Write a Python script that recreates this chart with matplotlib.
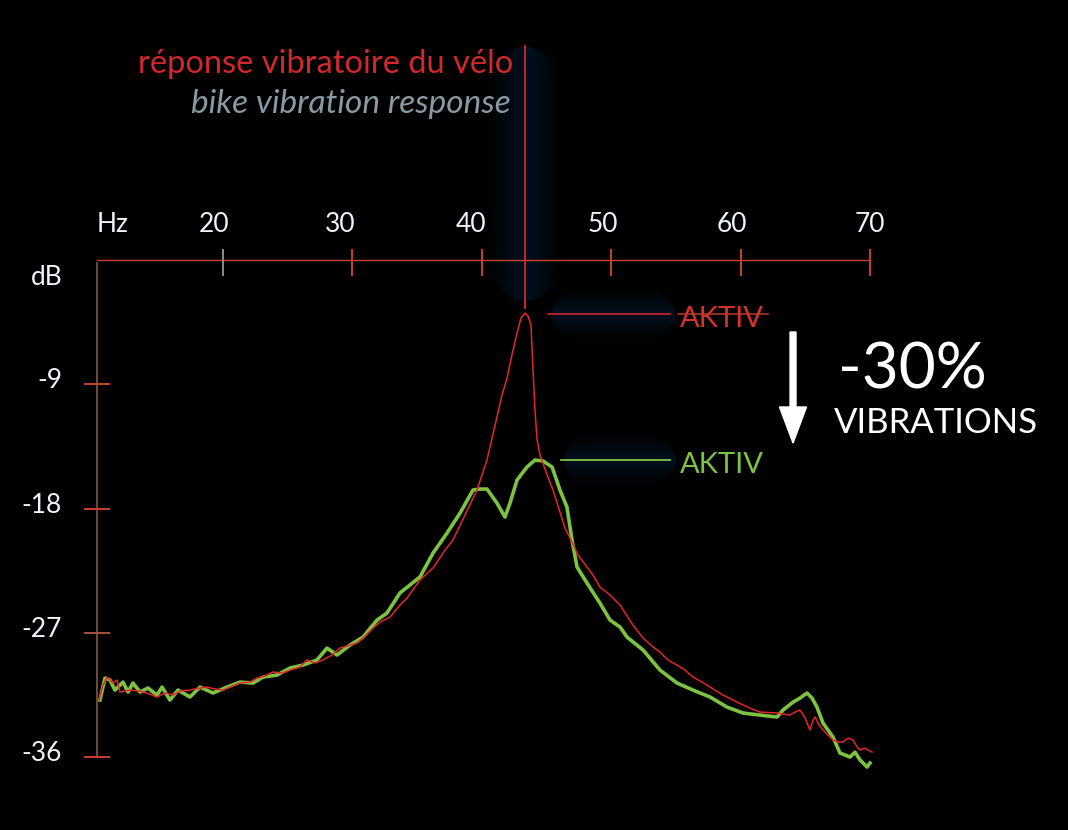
import numpy as np
import matplotlib
matplotlib.use("Agg")
import matplotlib.pyplot as plt

plt.rcParams['font.family'] = ['Lato', 'DejaVu Sans']

# fréquence (Hz) / réponse (dB) - vélo sans AKTIV (rouge)
red_hz = [10.42, 10.73, 11.04, 11.50, 11.81, 12.04, 12.81, 13.59, 14.36, 14.90,
          15.52, 16.14, 16.68, 17.45, 18.22, 18.76, 19.38, 20.00, 20.70, 21.31,
          22.09, 22.63, 23.25, 23.86, 24.56, 25.18, 25.95, 26.49, 27.11, 27.73,
          28.42, 29.04, 29.81, 30.36, 30.97, 31.59, 32.13, 32.91, 33.68, 34.22,
          35.22, 36.23, 37.16, 37.77, 38.70, 39.63, 40.40, 41.17, 41.56, 41.95,
          42.33, 42.72, 43.03, 43.34, 43.57, 43.80, 43.96, 44.11, 44.27, 44.50,
          44.96, 45.50, 46.04, 46.43, 46.82, 47.43, 48.13, 48.59, 49.13, 49.91,
          50.68, 51.68, 52.46, 53.15, 53.77, 54.39, 55.09, 55.70, 56.32, 57.02,
          57.64, 58.64, 59.41, 60.19, 60.88, 61.50, 62.81, 63.82, 64.20, 64.59,
          64.98, 65.36, 65.60, 65.75, 66.06, 66.37, 67.14, 67.53, 67.91, 68.30,
          68.69, 69.00, 69.23, 69.61, 70.15]
red_db = [-31.86, -30.77, -30.20, -30.63, -30.41, -31.28, -31.14, -31.21, -31.43, -31.64,
          -31.35, -31.50, -31.21, -31.14, -30.99, -30.92, -31.06, -31.14, -30.85, -30.63,
          -30.56, -30.27, -30.12, -29.83, -29.91, -29.69, -29.47, -28.96, -29.18, -28.96,
          -28.60, -28.10, -27.88, -27.73, -27.23, -26.65, -26.21, -25.85, -24.98, -24.48,
          -23.17, -22.30, -21.00, -20.28, -18.46, -16.65, -14.48, -11.37, -9.78, -8.54,
          -6.88, -5.29, -4.20, -3.84, -4.06, -4.71, -7.97, -10.86, -13.03, -14.12,
          -15.35, -16.65, -18.25, -19.41, -20.13, -21.36, -22.23, -22.81, -23.68, -24.26,
          -24.98, -26.43, -27.37, -27.95, -28.39, -28.96, -29.33, -29.69, -30.20, -30.56,
          -30.92, -31.50, -31.86, -32.22, -32.51, -32.73, -32.80, -32.95, -32.73, -32.58,
          -33.16, -34.03, -33.31, -33.09, -33.67, -34.03, -34.76, -34.90, -34.90, -34.61,
          -34.76, -35.26, -35.48, -35.34, -35.63]

# vélo avec AKTIV (vert)
green_hz = [10.49, 10.88, 11.27, 11.65, 12.27, 12.66, 13.04, 13.59, 14.20, 14.90,
            15.29, 15.90, 16.52, 17.45, 18.22, 19.23, 20.31, 21.31, 22.32, 23.09,
            24.17, 25.18, 26.18, 27.26, 28.04, 28.81, 29.81, 30.82, 31.90, 32.67,
            33.68, 35.22, 36.23, 37.31, 38.32, 39.32, 39.86, 40.40, 41.17, 41.79,
            42.18, 42.72, 43.49, 44.11, 44.73, 45.43, 46.04, 46.58, 46.97, 47.36,
            48.13, 49.13, 49.91, 50.68, 51.22, 52.46, 53.77, 55.09, 56.32, 57.64,
            58.95, 60.19, 61.50, 62.81, 63.28, 64.05, 64.59, 65.13, 65.52, 65.90,
            66.37, 67.14, 67.68, 68.07, 68.45, 68.84, 69.23, 69.77, 70.00]
green_db = [-31.86, -30.27, -30.41, -31.14, -30.56, -31.28, -30.63, -31.28, -30.99, -31.50,
            -30.92, -31.86, -31.14, -31.64, -30.92, -31.35, -30.92, -30.56, -30.63, -30.20,
            -30.05, -29.54, -29.33, -28.96, -28.10, -28.60, -27.88, -27.30, -26.07, -25.56,
            -24.10, -22.95, -21.22, -19.77, -18.32, -16.65, -16.58, -16.58, -17.60, -18.61,
            -17.60, -15.93, -14.99, -14.48, -14.55, -14.99, -16.65, -17.89, -20.28, -22.23,
            -23.39, -24.84, -26.07, -26.57, -27.30, -28.24, -29.69, -30.63, -31.14, -31.64,
            -32.37, -32.80, -32.95, -33.09, -32.58, -32.01, -31.72, -31.35, -31.72, -32.37,
            -33.53, -34.54, -35.70, -35.84, -35.99, -35.63, -36.20, -36.71, -36.42]

x_ticks = [20, 30, 40, 50, 60, 70]
x_tick_labels = ['20', '30', '40', '50', '60', '70']
y_ticks = [-9, -18, -27, -36]
y_tick_labels = ['-9', '-18', '-27', '-36']
peak_hz = 43.34

RED = '#e3262b'
AXIS_RED = '#c9412e'
GREEN = '#7ec242'
TXT = '#eef4fa'
GLOW = '#17405a'

fig = plt.figure(figsize=(10.68, 8.3), dpi=100, facecolor='black')
ax = fig.add_axes([0, 0, 1, 1])
ax.set_facecolor('black')
ax.set_xlim(2.767, 85.30)
ax.set_ylim(-41.27, 18.83)
ax.axis('off')

# halo bleu doux autour des repères (extrémités arrondies qui s'estompent)
for w in np.linspace(4, 72, 16):
    half = w / 13.81 / 2
    ax.plot([peak_hz, peak_hz], [-3.0 + half, 15.5 - half], color=GLOW, lw=w * 0.72,
            alpha=0.03, solid_capstyle='round', zorder=1)
for w in np.linspace(4, 50, 14):
    half = w / 12.94 / 2
    ax.plot([45.3 + half, 55.0 - half], [-3.91, -3.91], color=GLOW, lw=w * 0.72,
            alpha=0.03, solid_capstyle='round', zorder=1)
    ax.plot([46.3 + half, 55.0 - half], [-14.48, -14.48], color=GLOW, lw=w * 0.72,
            alpha=0.03, solid_capstyle='round', zorder=1)

# axes
x0 = 10.26
ax.plot([x0, 70.0], [0, 0], color=AXIS_RED, lw=1.0, zorder=2)
ax.plot([x0, x0], [-36, -0.2], color='#6e4a3e', lw=1.4, zorder=2)
for i, t in enumerate(x_ticks):
    c = '#8c8c8c' if i == 0 else AXIS_RED
    ax.plot([t, t], [0.72, -1.09], color=c, lw=1.4, zorder=2)
shift = [0.7, 0.93, 0.85, 0.62, 0.7, 0.0]
for t, lab, s in zip(x_ticks, x_tick_labels, shift):
    ax.text(t - s, 2.05, lab, color=TXT, fontsize=19, ha='center', va='baseline')
ax.text(x0, 2.05, 'Hz', color=TXT, fontsize=19, ha='left', va='baseline')

for t, lab in zip(y_ticks, y_tick_labels):
    c = '#a8533c' if t == -27 else AXIS_RED
    ax.plot([x0 - 0.93, x0 + 0.93], [t, t], color=c, lw=1.4, zorder=2)
    ax.text(7.56, t - 0.3, lab, color=TXT, fontsize=19, ha='right', va='baseline')
ax.text(7.64, -1.78, 'dB', color=TXT, fontsize=19, ha='right', va='baseline')

# courbes
ax.plot(green_hz, green_db, color=GREEN, lw=2.6, zorder=3, solid_joinstyle='round')
ax.plot(red_hz, red_db, color=RED, lw=1.1, zorder=4)

# repère de résonance
ax.plot([peak_hz, peak_hz], [-3.48, 15.5], color=RED, lw=1.3, zorder=4)

ax.text(42.41, 13.52, 'réponse vibratoire du vélo', color='#d1282e', fontsize=23.5,
        ha='right', va='baseline')
ax.text(42.26, 10.64, 'bike vibration response', color='#8a9aa4', fontsize=24,
        style='italic', ha='right', va='baseline')

# étiquettes AKTIV
ax.plot([45.12, 54.54], [-3.91, -3.91], color=RED, lw=1.1, zorder=4)
ax.text(55.32, -4.85, 'AKTIV', color='#d6312d', fontsize=21,
        ha='left', va='baseline', zorder=4)
ax.plot([55.16, 62.12], [-3.91, -3.91], color='#b83a2e', lw=1.1, zorder=5)
ax.plot([46.12, 54.54], [-14.48, -14.48], color=GREEN, lw=1.3, zorder=4)
ax.text(55.32, -15.42, 'AKTIV', color=GREEN, fontsize=21,
        ha='left', va='baseline', zorder=4)

# flèche -30 %
ax.arrow(64.05, -5.21, 0, -8.04, width=0.46, head_width=2.09, head_length=2.61,
         length_includes_head=True, color='white', zorder=5)
ax.text(67.53, -9.27, '-30%', color='white', fontsize=46,
        ha='left', va='baseline')
ax.text(67.2, -12.53, 'VIBRATIONS', color='white', fontsize=25,
        ha='left', va='baseline')

fig.savefig('out.png', dpi=100, facecolor='black')
